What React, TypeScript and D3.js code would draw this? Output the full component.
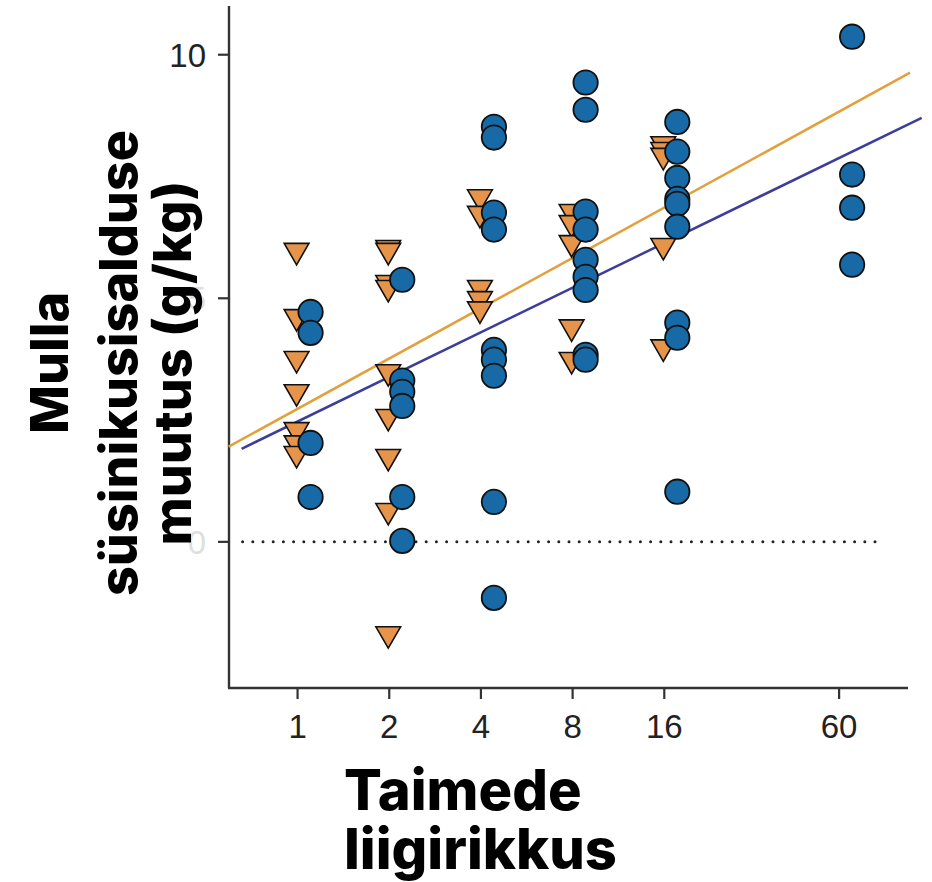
import React from 'react';
import * as d3 from 'd3';

// species richness levels (x, log2 axis)
const richness = [1, 2, 4, 8, 16, 60];
const xTickLabels = ['1', '2', '4', '8', '16', '60'];
const yTicks = [0, 5, 10];

// orange triangles, one list per richness level
const triangleValues: number[][] = [
  [5.98, 4.62, 3.76, 3.08, 2.3, 2.03, 1.81],
  [6.04, 5.98, 5.32, 5.22, 3.49, 2.57, 1.75, 0.64, -1.89],
  [7.08, 6.74, 5.22, 4.99, 4.78],
  [6.78, 6.55, 6.14, 4.41, 3.74],
  [8.17, 8.05, 7.93, 6.08, 4.0],
  [],
];

// blue circles, one list per richness level
const circleValues: number[][] = [
  [4.72, 4.29, 2.03, 0.92],
  [5.38, 3.31, 3.08, 2.79, 0.92, 0.02],
  [8.52, 8.3, 6.76, 6.41, 3.94, 3.74, 3.41, 0.82, -1.15],
  [9.43, 8.87, 6.78, 6.41, 5.79, 5.44, 5.17, 3.84, 3.74],
  [8.62, 8.01, 7.47, 7.04, 6.94, 6.47, 4.5, 4.19, 1.03],
  [10.37, 7.54, 6.86, 5.69],
];

// fitted lines y = a + b * log2(x)
const fitNames = ['orange', 'blue'];
const fitIntercepts = [2.73, 2.47];
const fitSlopes = [1.033, 0.916];
const fitFrom = [0.594, 0.655];
const fitTo = [102.6, 112];
const fitColors = ['#e3a03a', '#3d3d9c'];

const zeroLineRange = [0.66, 80];

const W = 932;
const H = 882;

export default function App() {
  const x = d3.scaleLog().base(2).domain([0.6, 101]).range([230, 908]);
  const y = d3.scaleLinear().domain([-3, 11]).range([688, 6]);

  const triPath = d3.symbol().type(d3.symbolTriangle).size(265)() as string;

  const axisColor = '#333';

  return (
    <svg
      width={W}
      height={H}
      style={{ position: 'absolute', left: 0, top: 0, background: '#fff' }}
    >
      {/* axes */}
      <line x1={229} x2={229} y1={y(11)} y2={y(-3)} stroke={axisColor} strokeWidth={2.4} />
      <line x1={228} x2={x(101)} y1={y(-3)} y2={y(-3)} stroke={axisColor} strokeWidth={2.4} />
      {richness.map((r, i) => (
        <g key={'xt' + r}>
          <line x1={x(r)} x2={x(r)} y1={y(-3)} y2={y(-3) + 11} stroke={axisColor} strokeWidth={2.2} />
          <text
            x={x(r)}
            y={738}
            textAnchor="middle"
            fontFamily="'Liberation Sans', Arial, sans-serif"
            fontSize={33}
            fill="#222"
          >
            {xTickLabels[i]}
          </text>
        </g>
      ))}
      {yTicks.map((t) => (
        <g key={'yt' + t}>
          <line x1={218} x2={229} y1={y(t)} y2={y(t)} stroke={axisColor} strokeWidth={2.2} />
          <text
            x={206}
            y={y(t) + 12}
            textAnchor="end"
            fontFamily="'Liberation Sans', Arial, sans-serif"
            fontSize={33}
            fill="#222"
          >
            {t}
          </text>
        </g>
      ))}

      {/* zero reference */}
      <line
        x1={x(zeroLineRange[0])}
        x2={x(zeroLineRange[1])}
        y1={y(0)}
        y2={y(0)}
        stroke="#222"
        strokeWidth={3}
        strokeLinecap="round"
        strokeDasharray="0,10.2"
      />

      {/* fitted lines */}
      {fitNames.map((n, i) => {
        const xs = [fitFrom[i], fitTo[i]];
        return (
          <line
            key={n}
            x1={x(xs[0])}
            x2={x(xs[1])}
            y1={y(fitIntercepts[i] + fitSlopes[i] * Math.log2(xs[0]))}
            y2={y(fitIntercepts[i] + fitSlopes[i] * Math.log2(xs[1]))}
            stroke={fitColors[i]}
            strokeWidth={2.5}
          />
        );
      })}

      {/* triangles */}
      {triangleValues.map((vals, i) =>
        vals.map((v, j) => (
          <path
            key={`t${i}-${j}`}
            d={triPath}
            transform={`translate(${x(richness[i]) - 1},${y(v)}) rotate(180)`}
            fill="#e6944a"
            stroke="#111"
            strokeWidth={1.6}
          />
        ))
      )}

      {/* circles */}
      {circleValues.map((vals, i) =>
        vals.map((v, j) => (
          <circle
            key={`c${i}-${j}`}
            cx={x(richness[i]) + 13}
            cy={y(v)}
            r={12.2}
            fill="#176aa5"
            stroke="#111"
            strokeWidth={1.8}
          />
        ))
      )}

      {/* y title */}
      <rect x={12} y={112} width={202} height={500} fill="#fff" opacity={0.85} />
      <g
        transform="translate(0,363)"
        fontFamily="Inter, 'Noto Sans', sans-serif"
        fontWeight={800}
        fontSize={52}
        fill="#000"
        textAnchor="middle"
      >
        <text transform="translate(68,0) rotate(-90)">Mulla</text>
        <text transform="translate(137,0) rotate(-90)">süsinikusisalduse</text>
        <text transform="translate(191,0) rotate(-90)">muutus (g/kg)</text>
      </g>

      {/* x title */}
      <g fontFamily="Inter, 'Noto Sans', sans-serif" fontWeight={800} fontSize={56} fill="#000">
        <text x={344} y={810}>Taimede</text>
        <text x={344} y={869}>liigirikkus</text>
      </g>
    </svg>
  );
}
